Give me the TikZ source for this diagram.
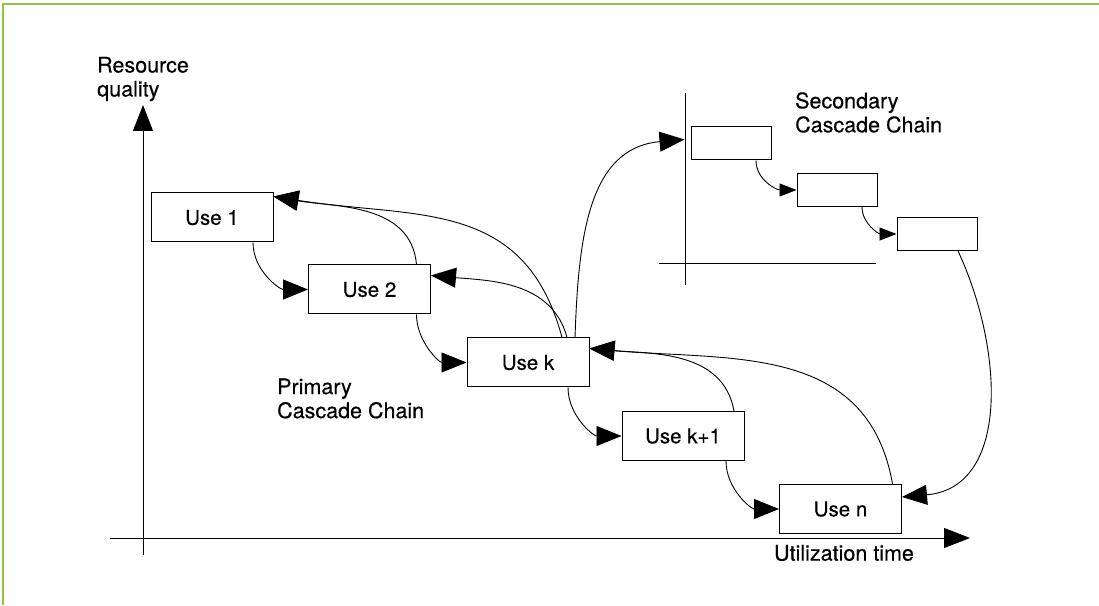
\documentclass[tikz,border=0pt]{standalone}
\usepackage{fontspec}
\setmainfont[FakeBold=0.35]{TeX Gyre Heros}
\usetikzlibrary{arrows.meta, positioning}

\definecolor{framegreen}{RGB}{141,198,63}

\begin{document}
\begin{tikzpicture}[x=1pt, y=1pt,
    usebox/.style={draw, line width=1pt, minimum width=122pt, minimum height=49pt, inner sep=0pt, font=\fontsize{20.5pt}{24pt}\selectfont},
    secbox/.style={draw, line width=1pt, minimum width=80pt, minimum height=33pt, inner sep=0pt},
    lbl/.style={align=left, anchor=west, inner sep=0pt, font=\fontsize{21.5pt}{24pt}\selectfont},
    feedarrow/.style={-{Triangle[length=25pt, width=20pt]}, line width=0.9pt},
    steparrow/.style={-{Triangle[length=17pt, width=13pt]}, line width=0.9pt}]
  \useasboundingbox (0,0) rectangle (1099,605);
  \draw[framegreen, line width=2pt] (3,0) -- (3,601) -- (1099,601);

  % main axes
  \draw[line width=1pt, -{Triangle[length=26pt, width=20pt]}] (143,50) -- (143,500);
  \draw[line width=1pt, -{Triangle[length=26pt, width=20pt]}] (110,67) -- (970,67);
  \node[lbl] (quality) at (97,526) {Resource\\quality};
  \node[lbl, anchor=center] (time) at (844,52) {Utilization time};

  % secondary axes
  \draw[line width=1pt] (685,320) -- (685,512);
  \draw[line width=1pt] (659,341) -- (876,341);

  % primary chain
  \node[usebox] (u1) at (212,387.5) {Use 1};
  \node[usebox] (u2) at (369.5,315.5) {Use 2};
  \node[usebox] (uk) at (528,242.5) {Use k};
  \node[usebox] (uk1) at (683,169) {Use k+1};
  \node[usebox] (un) at (840.5,96) {Use n};
  \node[lbl] (primary) at (277,206.5) {Primary\\Cascade Chain};

  % secondary chain
  \node[secbox] (s1) at (731,461.5) {};
  \node[secbox] (s2) at (837,415) {};
  \node[secbox] (s3) at (937,371) {};
  \node[lbl] (secondary) at (795,492.5) {Secondary\\Cascade Chain};

  \draw[feedarrow] ([xshift=41pt]u1.south) to[out=-90, in=180] (u2.west);
  \draw[feedarrow] ([xshift=47pt]u2.south) to[out=-90, in=180] (uk.west);
  \draw[feedarrow] ([xshift=40pt]uk.south) to[out=-90, in=180] (uk1.west);
  \draw[feedarrow] ([xshift=43pt]uk1.south) to[out=-90, in=180] (un.west);

  \draw[feedarrow] ([xshift=47pt]u2.north) to[out=95, in=-10] ([yshift=21pt]u1.east);
  \draw[feedarrow] ([xshift=34pt]uk.north) to[out=105, in=-9, looseness=1.15] ([yshift=21pt]u1.east);
  \draw[feedarrow] ([xshift=39pt]uk.north) to[out=105, in=-5] ([yshift=14pt]u2.east);
  \draw[feedarrow] ([xshift=47pt]uk.north) to[out=88, in=185, looseness=1.1] ([xshift=-6pt, yshift=4pt]s1.west);
  \draw[feedarrow] ([xshift=51pt]uk1.north) to[out=100, in=-5] ([yshift=14pt]uk.east);
  \draw[feedarrow] ([xshift=52pt]un.north) to[out=100, in=-5, looseness=1.1] ([yshift=14pt]uk.east);
  \draw[feedarrow] ([xshift=21pt]s3.south) to[out=-65, in=5, looseness=1.1] ([yshift=12pt]un.east);

  \draw[steparrow] ([xshift=25pt]s1.south) to[out=-90, in=180] (s2.west);
  \draw[steparrow] ([xshift=25pt]s2.south) to[out=-90, in=180] (s3.west);
\end{tikzpicture}
\end{document}
